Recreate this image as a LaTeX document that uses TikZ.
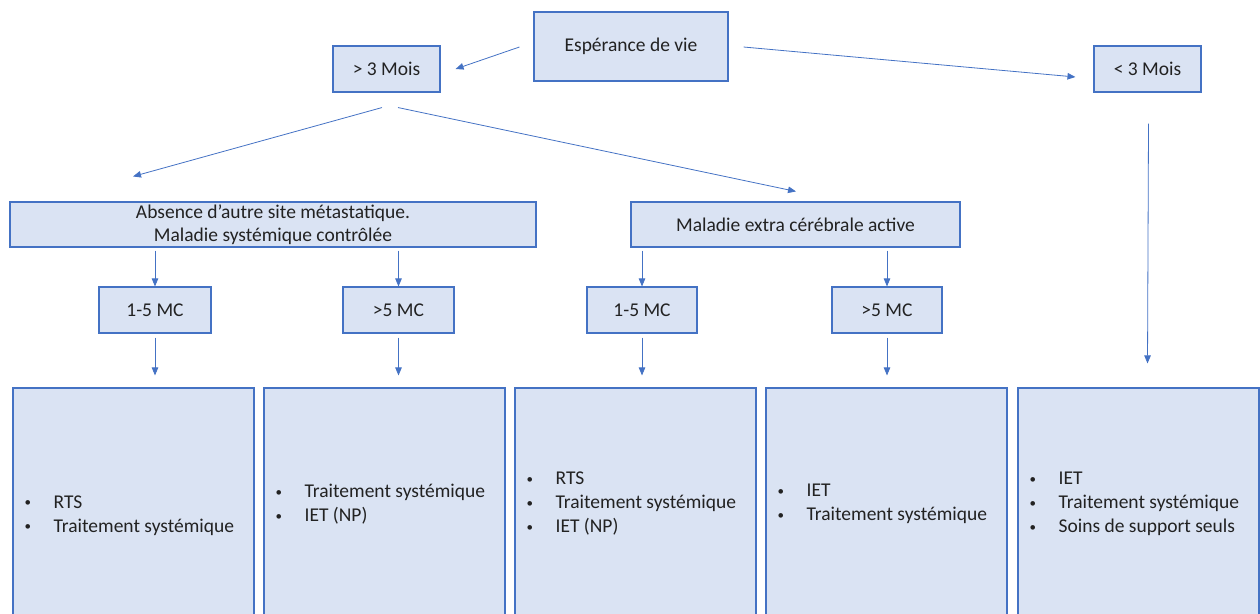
\documentclass[tikz,border=0pt]{standalone}
\usepackage{fontspec}
\setmainfont{Carlito}
\usetikzlibrary{arrows.meta,calc}
\definecolor{boxfill}{HTML}{DAE3F3}
\definecolor{boxline}{HTML}{4472C4}
\definecolor{arrline}{HTML}{4472C4}
\definecolor{txt}{HTML}{222222}
\newcommand\bul{\makebox[30pt][l]{\hspace{1pt}\raisebox{1.5pt}{\fontsize{13}{13}\selectfont•}}}
\begin{document}
\begin{tikzpicture}[x=1pt,y=-1pt,
  every node/.style={font=\fontsize{19.5}{24}\selectfont, text=txt},
  box/.style={draw=boxline, line width=1.1pt, fill=boxfill, rectangle, inner sep=0pt, align=center},
  bigbox/.style={box, minimum width=241pt, minimum height=240pt},
  bullets/.style={anchor=west, inner sep=0pt, align=left},
  arr/.style={draw=arrline, line width=0.8pt, -{Triangle[length=8pt,width=6.5pt]}}]
\useasboundingbox (0,0) rectangle (1260,613);
\clip (0,0) rectangle (1260,613);
% top level
\node[box, minimum width=194pt, minimum height=69pt] (esp) at (631,46.5) {Espérance de vie};
\node[box, minimum width=107pt, minimum height=46pt] (m3) at (386.5,69) {> 3 Mois};
\node[box, minimum width=107pt, minimum height=46pt] (m3r) at (1147.5,69) {< 3 Mois};
% second level
\node[box, minimum width=526pt, minimum height=45pt, font=\fontsize{19.5}{23}\selectfont] (abs) at (273,224.5) {Absence d’autre site métastatique.\\Maladie systémique contrôlée};
\node[box, minimum width=329pt, minimum height=45pt] (mal) at (795.5,224.5) {Maladie extra cérébrale active};
% third level
\node[box, minimum width=112pt, minimum height=46pt] (c1) at (155,310) {1-5 MC};
\node[box, minimum width=111pt, minimum height=46pt] (c2) at (398.5,310) {>5 MC};
\node[box, minimum width=110pt, minimum height=46pt] (c3) at (642,310) {1-5 MC};
\node[box, minimum width=110pt, minimum height=46pt] (c4) at (887,310) {>5 MC};
% bottom boxes
\node[bigbox] (b1) at (133.5,508) {};
\node[bigbox] (b2) at (384.5,508) {};
\node[bigbox] (b3) at (635.5,508) {};
\node[bigbox] (b4) at (886.5,508) {};
\node[bigbox] (b5) at (1138.5,508) {};
\node[bullets] (t1) at ($(b1.west |- 0,515.5)+(11,0)$) {\bul RTS\\\bul Traitement systémique};
\node[bullets] (t2) at ($(b2.west |- 0,504.5)+(11,0)$) {\bul Traitement systémique\\\bul IET (NP)};
\node[bullets] (t3) at ($(b3.west |- 0,504)+(11,0)$) {\bul RTS\\\bul Traitement systémique\\\bul IET (NP)};
\node[bullets] (t4) at ($(b4.west |- 0,504)+(11,0)$) {\bul IET\\\bul Traitement systémique};
\node[bullets] (t5) at ($(b5.west |- 0,504)+(11,0)$) {\bul IET\\\bul Traitement systémique\\\bul Soins de support seuls};
% connectors
\draw[arr] ($(esp.west)+(-14,0.5)$) -- ($(m3.east)+(15,0)$);
\draw[arr] ($(esp.east)+(15,0.5)$) -- ($(m3r.west)+(-18,8)$);
\draw[arr] ($(m3.south)+(-4.5,15)$) -- ($(abs.north)+(-140,-25)$);
\draw[arr] ($(m3.south)+(11.5,15)$) -- ($(mal.north)+(0.5,-10)$);
\draw[arr] ($(m3r.south)+(1,31)$) -- ($(m3r.south |- b5.north)+(0,-24)$);
\foreach \s/\c in {abs/c1,abs/c2,mal/c3,mal/c4}{
  \draw[arr] ($(\s.south -| \c.north)+(0,3)$) -- (\c.north);
}
\foreach \c/\b in {c1/b1,c2/b2,c3/b3,c4/b4}{
  \draw[arr] ($(\c.south)+(0,4)$) -- ($(\c.south |- \b.north)+(0,-12)$);
}
\end{tikzpicture}
\end{document}
